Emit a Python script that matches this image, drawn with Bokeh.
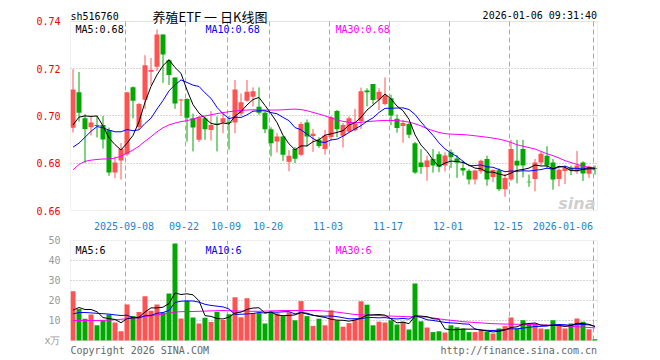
import pandas as pd
from bokeh.plotting import figure
from bokeh.layouts import column
from bokeh.models import (ColumnDataSource, FixedTicker, PrintfTickFormatter, Label,
                          Range1d, BoxAnnotation)
from bokeh.embed import file_html
from bokeh.resources import INLINE

# ---------------- data ----------------
first_day = "2025-08-26"
last_day = "2026-01-06"
holidays = ["2025-10-01", "2025-10-02", "2025-10-03", "2025-10-06", "2025-10-07",
            "2025-10-08", "2026-01-01", "2026-01-02"]

opens = [0.6950, 0.7100, 0.6990, 0.6952, 0.6962, 0.6962, 0.6941, 0.6761, 0.6812, 0.6838,
         0.7121, 0.6952, 0.7069, 0.7187, 0.7208, 0.7345, 0.7236, 0.7163, 0.7065, 0.7072,
         0.6990, 0.6899, 0.6990, 0.6941, 0.6968, 0.6972, 0.6974, 0.6972, 0.7010, 0.7064,
         0.7081, 0.7039, 0.7014, 0.6944, 0.6892, 0.6913, 0.6806, 0.6860, 0.6836, 0.6972,
         0.6915, 0.6899, 0.6860, 0.6911, 0.7021, 0.6916, 0.6934, 0.6940, 0.6978, 0.7108,
         0.7135, 0.7070, 0.7051, 0.7075, 0.6988, 0.6958, 0.6966, 0.6885, 0.6803, 0.6784,
         0.6818, 0.6838, 0.6790, 0.6846, 0.6820, 0.6780, 0.6768, 0.6731, 0.6766, 0.6818,
         0.6742, 0.6770, 0.6690, 0.6731, 0.6811, 0.6860, 0.6722, 0.6733, 0.6803, 0.6832,
         0.6803, 0.6733, 0.6767, 0.6781, 0.6765, 0.6803, 0.6756, 0.6779]
highs = [0.7198, 0.7186, 0.7008, 0.7000, 0.7000, 0.7000, 0.6951, 0.6828, 0.6885, 0.7101,
         0.7125, 0.7055, 0.7257, 0.7245, 0.7366, 0.7345, 0.7240, 0.7163, 0.7072, 0.7075,
         0.7010, 0.7000, 0.6998, 0.7020, 0.6998, 0.7010, 0.7000, 0.7152, 0.7095, 0.7152,
         0.7121, 0.7121, 0.7020, 0.6952, 0.6927, 0.6915, 0.6855, 0.6868, 0.6975, 0.6985,
         0.6945, 0.6910, 0.6941, 0.7000, 0.7025, 0.6970, 0.6998, 0.7030, 0.7120, 0.7117,
         0.7135, 0.7117, 0.7163, 0.7090, 0.7006, 0.6983, 0.6972, 0.6890, 0.6860, 0.6832,
         0.6860, 0.6850, 0.6846, 0.6858, 0.6835, 0.6810, 0.6775, 0.6772, 0.6815, 0.6832,
         0.6775, 0.6778, 0.6755, 0.6899, 0.6899, 0.6899, 0.6752, 0.6818, 0.6850, 0.6872,
         0.6818, 0.6778, 0.6790, 0.6790, 0.6852, 0.6808, 0.6790, 0.6790]
lows = [0.6930, 0.6976, 0.6801, 0.6917, 0.6909, 0.6862, 0.6747, 0.6737, 0.6731, 0.6830,
        0.6990, 0.6941, 0.7030, 0.7130, 0.7190, 0.7140, 0.7131, 0.7030, 0.7000, 0.6891,
        0.6850, 0.6890, 0.6899, 0.6896, 0.6850, 0.6927, 0.6857, 0.6927, 0.7000, 0.7060,
        0.7040, 0.7005, 0.6927, 0.6829, 0.6845, 0.6810, 0.6766, 0.6801, 0.6830, 0.6871,
        0.6848, 0.6865, 0.6836, 0.6895, 0.6910, 0.6867, 0.6928, 0.6935, 0.6945, 0.7040,
        0.7050, 0.7025, 0.7045, 0.6961, 0.6929, 0.6887, 0.6906, 0.6755, 0.6755, 0.6726,
        0.6760, 0.6762, 0.6765, 0.6780, 0.6738, 0.6748, 0.6710, 0.6710, 0.6756, 0.6705,
        0.6720, 0.6682, 0.6658, 0.6725, 0.6715, 0.6740, 0.6700, 0.6681, 0.6790, 0.6775,
        0.6688, 0.6702, 0.6712, 0.6750, 0.6755, 0.6725, 0.6738, 0.6752]
closes = [0.7112, 0.7014, 0.6945, 0.6972, 0.6957, 0.6900, 0.6761, 0.6803, 0.6860, 0.7100,
          0.7064, 0.7051, 0.7215, 0.7194, 0.7345, 0.7260, 0.7173, 0.7053, 0.7070, 0.6992,
          0.6951, 0.6995, 0.6944, 0.6962, 0.6962, 0.6990, 0.6970, 0.7112, 0.7058, 0.7102,
          0.7105, 0.7014, 0.6944, 0.6885, 0.6913, 0.6836, 0.6832, 0.6819, 0.6966, 0.6913,
          0.6925, 0.6873, 0.6916, 0.6994, 0.6944, 0.6962, 0.6990, 0.6968, 0.7105, 0.7100,
          0.7068, 0.7102, 0.7088, 0.7002, 0.6949, 0.6970, 0.6920, 0.6761, 0.6784, 0.6812,
          0.6790, 0.6785, 0.6833, 0.6825, 0.6803, 0.6769, 0.6731, 0.6769, 0.6811, 0.6731,
          0.6771, 0.6690, 0.6738, 0.6860, 0.6790, 0.6790, 0.6719, 0.6803, 0.6840, 0.6790,
          0.6731, 0.6772, 0.6780, 0.6770, 0.6790, 0.6757, 0.6786, 0.6776]
volumes = [24.6, 15.8, 10.9, 13.0, 7.6, 10.1, 13.0, 9.0, 4.6, 18.0,
           12.2, 14.3, 22.1, 14.9, 18.0, 14.0, 23.5, 48.5, 11.0, 19.7,
           11.5, 8.5, 11.4, 9.2, 14.4, 10.3, 13.1, 21.6, 11.6, 21.1,
           13.8, 13.7, 8.5, 14.1, 13.6, 12.2, 14.1, 10.1, 19.7, 12.2,
           7.3, 10.9, 7.6, 15.1, 10.0, 6.9, 8.7, 10.5, 19.6, 17.9,
           7.6, 9.4, 9.0, 10.1, 8.0, 9.4, 5.5, 28.5, 9.6, 6.5,
           4.2, 4.6, 4.0, 7.6, 6.6, 5.9, 4.2, 4.2, 5.1, 4.4,
           3.5, 6.0, 7.2, 11.5, 6.0, 10.1, 7.7, 8.5, 6.0, 5.6,
           10.1, 7.4, 6.0, 8.5, 11.0, 9.4, 5.6, 0.6]

# moving-average values at the left edge (their windows start before the first shown day)
ma5_head = [0.6962, 0.6995, 0.7000, 0.6998]
ma10_head = [0.6868, 0.6885, 0.6910, 0.6935, 0.6955, 0.6950, 0.6940, 0.6933, 0.6933]
ma30 = [0.6772, 0.6795, 0.6808, 0.6813, 0.6816, 0.6818, 0.6818, 0.6822, 0.6830, 0.6843,
        0.6856, 0.6872, 0.6893, 0.6912, 0.6933, 0.6950, 0.6962, 0.6970, 0.6976, 0.6980,
        0.6987, 0.6995, 0.7000, 0.7005, 0.7010, 0.7014, 0.7018, 0.7021, 0.7023, 0.7025,
        0.7026, 0.7026, 0.7025, 0.7025, 0.7025, 0.7026, 0.7028, 0.7029, 0.7027, 0.7022,
        0.7015, 0.7008, 0.7000, 0.6992, 0.6983, 0.6977, 0.6973, 0.6971, 0.6973, 0.6976,
        0.6978, 0.6980, 0.6981, 0.6981, 0.6980, 0.6978, 0.6974, 0.6967, 0.6958, 0.6946,
        0.6938, 0.6930, 0.6925, 0.6923, 0.6922, 0.6921, 0.6919, 0.6916, 0.6913, 0.6910,
        0.6906, 0.6902, 0.6896, 0.6888, 0.6878, 0.6872, 0.6866, 0.6860, 0.6850, 0.6840,
        0.6832, 0.6822, 0.6811, 0.6803, 0.6795, 0.6788, 0.6782, 0.6778]
vma5_head = [15.2, 16.5, 15.5, 15.5]
vma10_head = [13.3, 14.0, 14.0, 13.8, 13.6, 13.4, 13.2, 12.8, 12.5]
vma30 = [10.0, 10.0, 10.0, 10.0, 10.0, 10.1, 10.2, 10.4, 10.6, 10.9,
         11.2, 11.6, 12.0, 12.4, 12.8, 13.2, 13.6, 14.2, 14.4, 14.5,
         14.5, 14.6, 14.7, 14.8, 14.9, 15.0, 14.9, 14.8, 14.7, 14.6,
         14.6, 14.6, 14.7, 14.8, 14.9, 15.0, 15.0, 15.0, 15.0, 15.0,
         15.0, 14.9, 14.7, 14.5, 14.2, 13.8, 13.4, 13.0, 12.8, 12.7,
         12.6, 12.5, 12.3, 12.2, 12.1, 12.0, 11.9, 11.8, 11.8, 11.7,
         11.3, 10.8, 10.4, 10.1, 9.8, 9.4, 9.2, 9.0, 8.8, 8.6,
         8.4, 8.3, 8.2, 8.2, 8.1, 8.1, 8.0, 7.9, 7.8, 7.7,
         7.6, 7.5, 7.3, 7.1, 6.9, 6.7, 6.5, 6.3]

tick_dates = ["2025-09-08", "2025-09-22", "2025-10-09", "2025-10-20", "2025-11-03",
              "2025-11-17", "2025-12-01", "2025-12-15", "2026-01-06"]
tick_labels = ["2025-09-08", "09-22", "10-09", "10-20", "11-03",
               "11-17", "12-01", "12-15", "2026-01-06"]
price_ticks = [0.66, 0.68, 0.70, 0.72, 0.74]
volume_ticks = [0, 10, 20, 30, 40, 50]
volume_unit = "x万"

# ---------------- derived ----------------
days = [d.strftime("%Y-%m-%d") for d in pd.bdate_range(first_day, last_day)
        if d.strftime("%Y-%m-%d") not in holidays]
n = len(closes)
xs = list(range(n))


def moving_average(values, window, head):
    out = list(head)
    for i in range(len(head), len(values)):
        out.append(sum(values[i - window + 1:i + 1]) / window)
    return out


ma5 = moving_average(closes, 5, ma5_head)
ma10 = moving_average(closes, 10, ma10_head)
vma5 = moving_average(volumes, 5, vma5_head)
vma10 = moving_average(volumes, 10, vma10_head)

RED = "#ff5252"
GREEN = "#00a800"
colors = [RED if c > o else GREEN for o, c in zip(opens, closes)]
src = ColumnDataSource(dict(
    x=xs, o=opens, h=highs, l=lows, c=closes,
    top=[max(o, c) for o, c in zip(opens, closes)],
    bot=[min(o, c) for o, c in zip(opens, closes)],
    v=volumes, color=colors,
    ma5=ma5, ma10=ma10, ma30=ma30, vma5=vma5, vma10=vma10, vma30=vma30))

PX = 6.0          # pixels per trading day
CHAR_W = 6.02     # width of a 10px DejaVu Sans Mono character
FRAME_W = 527
x_start = -2.5 / PX
xr = Range1d(x_start, x_start + FRAME_W / PX)

tick_idx = [days.index(d) for d in tick_dates]
line_pos = [i - 2.0 / PX for i in tick_idx]
label_pos = [p - 1.0 / PX for p in line_pos]
# the last label is pulled left so that it ends at its grid line
label_pos[-1] = line_pos[-1] - len(tick_labels[-1]) * CHAR_W / 2 / PX

MONO = "DejaVu Sans Mono"
GRID = "#aaaaaa"
BORDER = "#999999"

# the price panel spans 190 px for 0.66..0.74; its frame also holds the 21 px header strip
P_LO, P_HI = price_ticks[0], price_ticks[-1]
p_per_px = (P_HI - P_LO) / 190
# the volume panel spans 100 px for 0..50; its frame also holds the 20 px footer strip
V_LO, V_HI = volume_ticks[0], volume_ticks[-1]
v_per_px = (V_HI - V_LO) / 100


def style(p, lo, hi):
    p.outline_line_color = None
    p.background_fill_color = "white"
    p.border_fill_color = "white"
    for ax in (p.xaxis, p.yaxis):
        ax.axis_line_color = None
        ax.major_tick_line_color = None
        ax.minor_tick_line_color = None
        ax.major_label_text_font = MONO
        ax.major_label_text_font_size = "10px"
    p.xgrid.ticker = FixedTicker(ticks=line_pos)
    p.xgrid.grid_line_color = GRID
    p.xgrid.grid_line_dash = "5 3"
    if "cross_bounds" in p.xgrid[0].properties():
        p.xgrid.cross_bounds = (lo, hi)
    p.ygrid.grid_line_color = GRID
    p.ygrid.grid_line_dash = "1 2"
    p.add_layout(BoxAnnotation(bottom=lo, top=hi, fill_color=None,
                               line_color=BORDER, line_width=1))


def label(p, x, y, text, color="black", size="10px", font=MONO, align="left", **kw):
    p.add_layout(Label(x=x, y=y, x_units="screen", y_units="screen", text=text,
                       text_color=color, text_font=font, text_font_size=size,
                       text_align=align, text_baseline="alphabetic", **kw))


# ---------------- price panel (with header) ----------------
p1 = figure(width=660, height=232, x_range=xr,
            y_range=Range1d(P_LO, P_HI + 21 * p_per_px),
            output_backend="svg", toolbar_location=None,
            min_border_left=70, min_border_right=63, min_border_top=0, min_border_bottom=21)
style(p1, P_LO, P_HI)
p1.yaxis.ticker = FixedTicker(ticks=price_ticks)
p1.yaxis.formatter = PrintfTickFormatter(format="%.2f")
p1.yaxis.major_label_text_color = "#ee0000"
p1.yaxis.major_label_standoff = 4
p1.xaxis.ticker = FixedTicker(ticks=label_pos)
p1.xaxis.major_label_overrides = {pos: lab for pos, lab in zip(label_pos, tick_labels)}
p1.xaxis.major_label_text_color = "#1a85d6"
p1.xaxis.major_label_standoff = 5
p1.ygrid.ticker = FixedTicker(ticks=price_ticks[1:-1])

p1.segment(x0="x", y0="l", x1="x", y1="h", line_color="color", line_width=1, source=src)
p1.vbar(x="x", width=5 / PX, top="top", bottom="bot", fill_color="color",
        line_color=None, source=src)
p1.line("x", "ma30", line_color="#ff00ff", line_width=1, source=src)
p1.line("x", "ma10", line_color="#0000ff", line_width=1, source=src)
p1.line("x", "ma5", line_color="#000000", line_width=1, source=src)

# header (screen units, from the frame's bottom-left corner at canvas y = 211)
label(p1, 0, 194.3, "sh516760")
label(p1, 139.5, 194.2, "养殖ETF 一 日K线图", size="13px", font="Noto Sans CJK SC",
      align="center")
label(p1, FRAME_W - 0.5, 195, "2026-01-06 09:31:40", align="right")
label(p1, 5, 181.5, "MA5:0.68")
label(p1, 135, 181.5, "MA10:0.68", color="#0000ff")
label(p1, 265, 181.5, "MA30:0.68", color="#ff00ff")
label(p1, FRAME_W - 2, 7, "sina", color="#cfcfcf", size="16px", font="DejaVu Sans",
      align="right", text_font_style="bold italic")

# ---------------- volume panel (with footer) ----------------
p2 = figure(width=660, height=128, x_range=xr,
            y_range=Range1d(V_LO - 20 * v_per_px, V_HI),
            output_backend="svg", toolbar_location=None,
            min_border_left=70, min_border_right=63, min_border_top=8, min_border_bottom=0)
style(p2, V_LO, V_HI)
p2.xaxis.visible = False
p2.yaxis.ticker = FixedTicker(ticks=volume_ticks)
p2.yaxis.major_label_overrides = {volume_ticks[0]: volume_unit}
p2.yaxis.major_label_text_color = "#999999"
p2.yaxis.major_label_standoff = 4
p2.ygrid.ticker = FixedTicker(ticks=volume_ticks[1:-1])

p2.vbar(x="x", width=5 / PX, top="v", bottom=0, fill_color="color", line_color=None, source=src)
p2.line("x", "vma30", line_color="#ff00ff", line_width=1, source=src)
p2.line("x", "vma10", line_color="#0000ff", line_width=1, source=src)
p2.line("x", "vma5", line_color="#000000", line_width=1, source=src)

# (screen units, from the frame's bottom-left corner at canvas y = 360)
label(p2, 5, 110, "MA5:6")
label(p2, 135, 110, "MA10:6", color="#0000ff")
label(p2, 265, 110, "MA30:6", color="#ff00ff")
label(p2, 0, 10.5, "Copyright 2026 SINA.COM", color="#666666")
label(p2, FRAME_W - 0.5, 10.5, "http://finance.sina.com.cn", color="#666666", align="right")

layout = column(p1, p2, spacing=0)
open("out.html", "w").write(file_html(layout, INLINE))
